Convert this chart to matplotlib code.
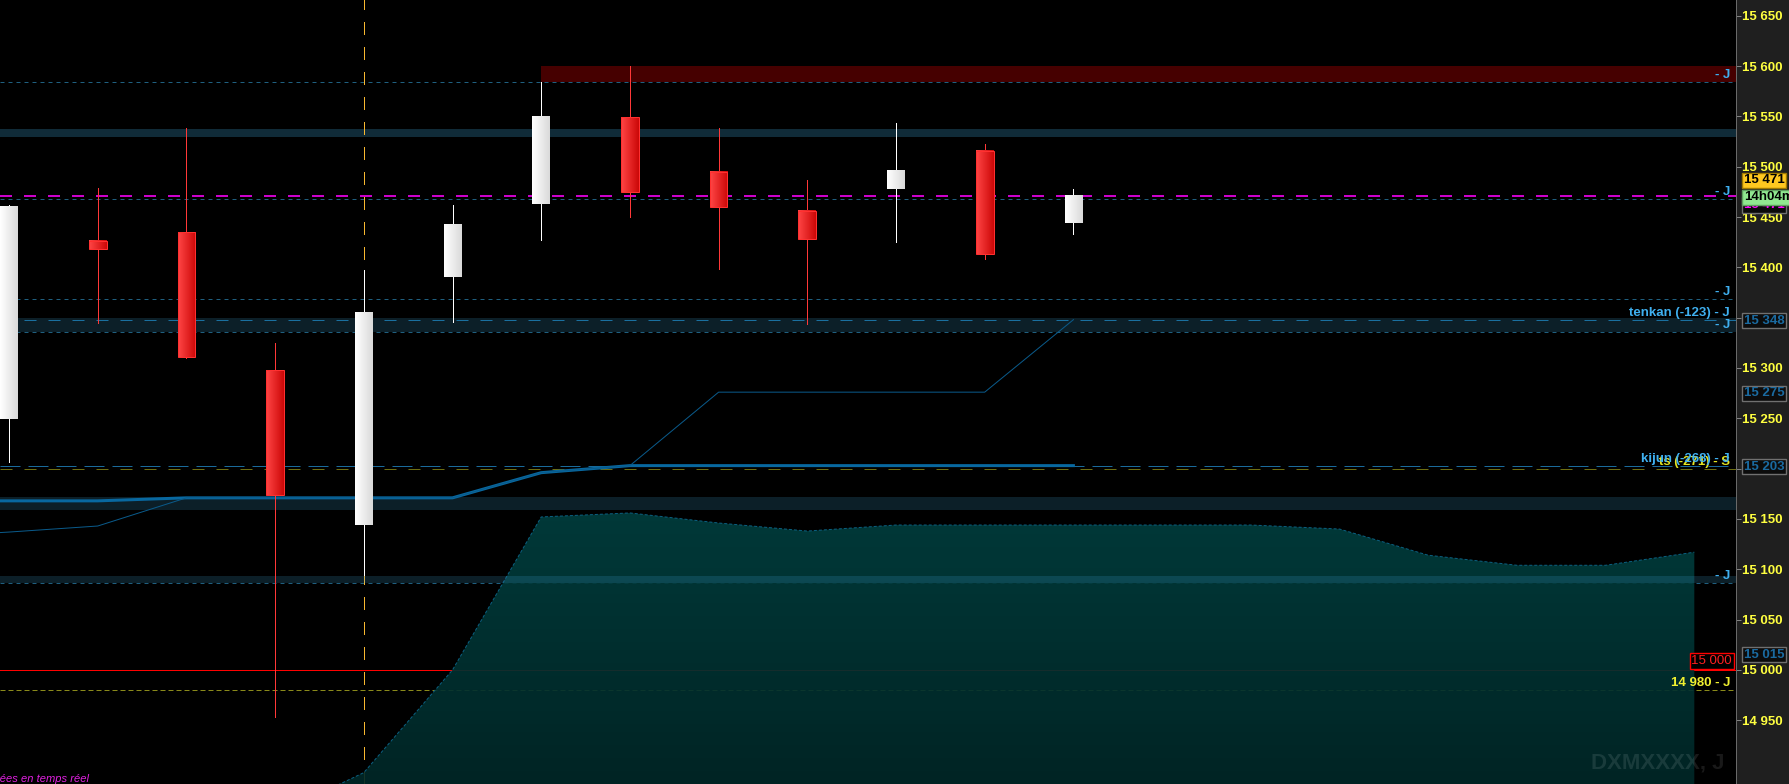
import numpy as np
import matplotlib
matplotlib.use('Agg')
import matplotlib.pyplot as plt
from matplotlib.colors import LinearSegmentedColormap
from matplotlib.patches import Rectangle

plt.rcParams['font.family'] = ['Liberation Sans', 'DejaVu Sans']
plt.rcParams['lines.scale_dashes'] = False

# daily candles (index 0 = first visible candle)
opens = [15249, 15426, 15435, 15298, 15144, 15390, 15463, 15549, 15495, 15456, 15478, 15516, 15444]
highs = [15462, 15479, 15538, 15325, 15397, 15462, 15584, 15600, 15538, 15487, 15543, 15523, 15478]
lows = [15207, 15345, 15310, 14953, 15094, 15346, 15427, 15450, 15398, 15344, 15425, 15408, 15433]
closes = [15460, 15418, 15311, 15174, 15355, 15442, 15550, 15475, 15460, 15428, 15496, 15413, 15471]

# ichimoku lines, from index -1
ichi_idx = list(range(-1, 13))
tenkan = [15132, 15137, 15143, 15171, 15171, 15171, 15171, 15196, 15203, 15276, 15276, 15276, 15276, 15348]
kijun = [15168, 15168, 15168, 15171, 15171, 15171, 15171, 15196, 15203, 15203, 15203, 15203, 15203, 15203]

# upper edge of the cloud (shifted forward), index 3..19
cloud_idx = list(range(3, 20))
span_a = [14856, 14898, 15000, 15152, 15156, 15146, 15138, 15144, 15144, 15144,
          15144, 15144, 15140, 15114, 15104, 15104, 15117]

yticks = list(range(14950, 15651, 50))

PX = 0.72  # one pixel in points at 100 dpi
y_lo, y_hi = 14886.7, 15665.6
x_lo, x_hi = -0.1015, 19.47

fig = plt.figure(figsize=(17.9, 7.84), dpi=100, facecolor='#1f1f1f')
ax = fig.add_axes([0, 0, 1736 / 1790, 1])
ax.set_facecolor('black')

# zones
ax.axhspan(15584, 15600, xmin=(6 - x_lo) / (x_hi - x_lo), color='#460000', lw=0, zorder=1)
ax.axhspan(15529, 15537.5, color=(0.24, 0.61, 0.8), alpha=0.28, lw=0, zorder=1)
ax.axhspan(15336, 15349.7, color=(0.24, 0.61, 0.8), alpha=0.2, lw=0, zorder=1)
ax.axhspan(15159, 15172.2, color=(0.24, 0.61, 0.8), alpha=0.2, lw=0, zorder=1)

# horizontal levels
dot = dict(color='#1f5f7f', lw=PX, dashes=(4 * PX, 4 * PX), zorder=1.5)
for lvl in [15584, 15467.6, 15368.3, 15336, 15086.7]:
    ax.axhline(lvl, **dot)
ax.axhline(15470.5, color='#ff00ff', lw=1.6 * PX, dashes=(12 * PX, 12 * PX), zorder=1.6)
ax.axhline(15347.4, color='#1a70a0', lw=PX, dashes=(12 * PX, 12 * PX), zorder=1.6)
ax.axhline(15202.7, color='#1a6a9a', lw=PX, dashes=(20 * PX, 8 * PX), zorder=1.6)
ax.axhline(15199.4, color='#6e6e12', lw=PX, dashes=(12 * PX, 12 * PX), zorder=1.6)
ax.axhline(15000, color='#ff0000', lw=PX, zorder=1.6, antialiased=False)
ax.axhline(14980, color='#8a8a1a', lw=PX, dashes=(5 * PX, 3 * PX), zorder=1.6)
ax.axvline(4, color='#f8b830', lw=1.2 * PX, dashes=(12 * PX, 12 * PX), zorder=1.7, antialiased=False)

# cloud with vertical gradient
poly = ax.fill_between(cloud_idx, span_a, y_lo, facecolor='none', edgecolor='none')
cloud_cm = LinearSegmentedColormap.from_list('cloud', ['#002828', '#003f3f'])
grad = np.linspace(1, 0, 64).reshape(-1, 1)
im = ax.imshow(grad, cmap=cloud_cm, extent=[cloud_idx[0], cloud_idx[-1], y_lo, 15160],
               aspect='auto', zorder=2, alpha=0.92)
im.set_clip_path(poly.get_paths()[0], transform=ax.transData)
ax.plot(cloud_idx, span_a, color='#0b5f80', lw=PX, dashes=(3 * PX, 2 * PX), zorder=2.1)
ax.axhspan(15086.7, 15093.7, color=(0.24, 0.61, 0.8), alpha=0.2, lw=0, zorder=2.2)

# tenkan / kijun
ax.plot(ichi_idx, kijun, color='#0868a0', lw=3 * PX, zorder=3, solid_joinstyle='round')
ax.plot(ichi_idx, tenkan, color='#0a5a8a', lw=PX, zorder=3.1)

# candles
red_cm = LinearSegmentedColormap.from_list('r', ['#ff4545', '#cc0808'])
white_cm = LinearSegmentedColormap.from_list('w', ['#ffffff', '#dadada'])
bw = 0.2
hgrad = np.linspace(0, 1, 32).reshape(1, -1)
for i in range(len(opens)):
    o, h, l, c = opens[i], highs[i], lows[i], closes[i]
    up = c >= o
    ax.vlines(i, l, h, color='white' if up else '#ff3838', lw=PX, zorder=4, antialiased=False)
    ax.imshow(hgrad, cmap=white_cm if up else red_cm, aspect='auto', zorder=5,
              extent=[i - bw / 2, i + bw / 2, min(o, c), max(o, c)], interpolation='bilinear')
    if not up:
        ax.add_patch(Rectangle((i - bw / 2, min(o, c)), bw, abs(c - o), fill=False,
                               ec='#ff3030', lw=PX, zorder=5.1))

ax.set_xlim(x_lo, x_hi)
ax.set_ylim(y_lo, y_hi)
ax.set_aspect('auto')

# line labels
def label(price, text, color):
    ax.annotate(text, xy=(1, price), xycoords=('axes fraction', 'data'),
                xytext=(-6 * PX, 4 * PX), textcoords='offset points', ha='right', va='baseline',
                color=color, fontsize=9.5, fontweight='bold', zorder=8)

lb = '#3fb0f0'
label(15584, '- J', lb)
label(15467.6, '- J', lb)
label(15368.3, '- J', lb)
label(15347.4, 'tenkan (-123) - J', lb)
label(15336, '- J', lb)
label(15086.7, '- J', lb)
label(15199.4, 'ts (-271) - S', '#e4e420')
label(15202.7, 'kijun (-268) - J', lb)
label(14980, '14 980 - J', '#f0f030')

ax.annotate('15 000', xy=(1, 15000), xycoords=('axes fraction', 'data'),
            xytext=(-4 * PX, 3 * PX), textcoords='offset points', ha='right', va='bottom',
            color='#ff2020', fontsize=9.5, zorder=9,
            bbox=dict(boxstyle='square,pad=0.12', fc='black', ec='#ff0000', lw=1))

# right axis
ax.yaxis.tick_right()
ax.set_yticks(yticks)
ax.set_yticklabels([f'{v:,}'.replace(',', ' ') for v in yticks])
ax.tick_params(axis='y', colors='#808080', labelcolor='#ffff40', length=5 * PX,
               width=PX, pad=1, labelsize=9.5)
for t in ax.get_yticklabels():
    t.set_fontweight('bold')
ax.set_xticks([])
for s in ['top', 'left', 'bottom']:
    ax.spines[s].set_visible(False)
ax.spines['right'].set_color('#6a6a6a')
ax.spines['right'].set_linewidth(PX)

def axis_box(price, text, fc, ec, tc):
    ax.annotate(text, xy=(1, price), xycoords=('axes fraction', 'data'),
                xytext=(8 * PX, 0), textcoords='offset points', ha='left', va='center',
                color=tc, fontsize=9.5, fontweight='bold', annotation_clip=False, zorder=10,
                bbox=dict(boxstyle='square,pad=0.12', fc=fc, ec=ec, lw=1))

axis_box(15462, '15 471', '#0a0a0a', '#707070', '#ff00ff')
axis_box(15486.5, '15 471', '#ffc820', '#a07800', 'black')
axis_box(15469.6, '14h04m', '#90e890', '#60a060', 'black')
for p, t in [(15347, '15 348'), (15275, '15 275'), (15202, '15 203'), (15015, '15 015')]:
    axis_box(p, t, '#0c0c0c', '#707070', '#1a6aa0')

fig.text(1725 / 1790, 16 / 784, 'DXMXXXX, J', ha='right', va='baseline', color='white',
         alpha=0.1, fontsize=16, fontweight='bold')
fig.text(89 / 1790, 2 / 784, 'Données en temps réel', ha='right', va='baseline',
         color='#e020e0', fontsize=8, style='italic')

fig.savefig('out.png', dpi=100, facecolor=fig.get_facecolor())
